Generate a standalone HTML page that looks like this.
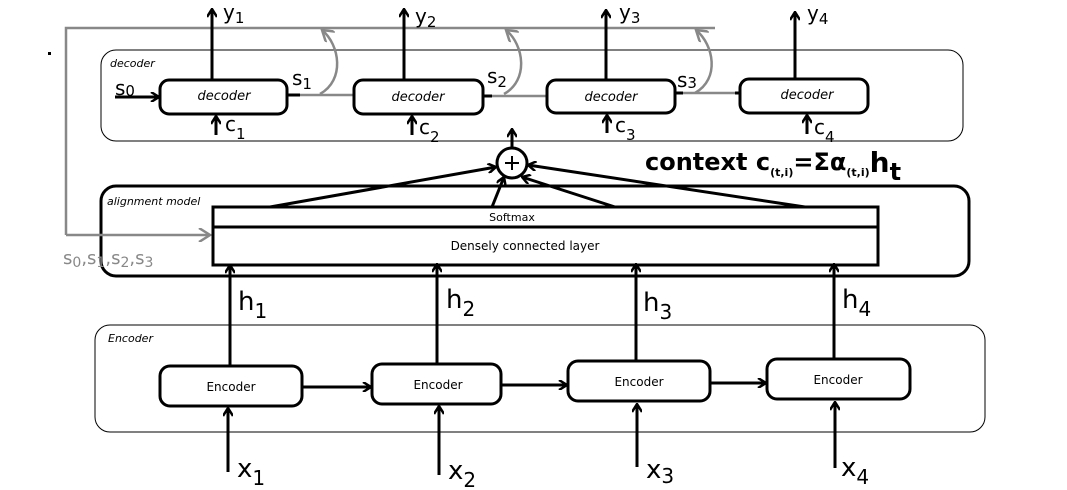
<!DOCTYPE html>
<html><head><meta charset="utf-8"><style>
html,body{margin:0;padding:0;background:#fff;width:1067px;height:490px;overflow:hidden}
svg{display:block}
text{font-family:"Comic Sans MS","DejaVu Sans","Liberation Sans",sans-serif;fill:#000}
</style></head><body>
<svg width="1067" height="490" viewBox="0 0 1067 490" xmlns="http://www.w3.org/2000/svg">
<defs>
<marker id="a" markerWidth="10" markerHeight="10" refX="9" refY="5" orient="auto" markerUnits="userSpaceOnUse"><path d="M1,0 L9,5 L1,10" fill="none" stroke="#000" stroke-width="2.5"/></marker>
<marker id="g" markerWidth="14" markerHeight="14" refX="12" refY="7" orient="auto" markerUnits="userSpaceOnUse"><path d="M1,0 L12,7 L1,14" fill="none" stroke="#888" stroke-width="2.5"/></marker>
</defs>
<rect x="48" y="52" width="3" height="3" fill="#000"/>
<!-- containers -->
<rect x="101" y="50" width="862" height="91" rx="15" fill="none" stroke="#000" stroke-width="1"/>
<rect x="101" y="186" width="868" height="90" rx="15" fill="none" stroke="#000" stroke-width="3"/>
<rect x="95" y="325" width="890" height="107" rx="15" fill="none" stroke="#000" stroke-width="1"/>
<text x="110" y="67" font-size="11" font-style="italic">decoder</text>
<text x="107" y="205" font-size="11" font-style="italic">alignment model</text>
<text x="108" y="342" font-size="11" font-style="italic">Encoder</text>
<!-- gray feedback -->
<g fill="none" stroke="#888" stroke-width="2.5">
<path d="M66,235 L66,28 L715,28"/>
<path d="M66,235 L210,235" marker-end="url(#g)"/>
<path d="M320,94 C345,80 340,45 322,30" marker-end="url(#g)"/>
<path d="M504,94 C529,80 524,45 506,30" marker-end="url(#g)"/>
<path d="M695,93 C720,79 714,45 696,30" marker-end="url(#g)"/>
<path d="M300,95 L353,95 M492,96 L547,96 M683,93 L735,93"/>
</g>
<text x="63" y="264" font-size="18" fill="#888" style="fill:#888">s<tspan font-size="14" dy="3">0</tspan><tspan dy="-3">,s</tspan><tspan font-size="14" dy="3">1</tspan><tspan dy="-3">,s</tspan><tspan font-size="14" dy="3">2</tspan><tspan dy="-3">,s</tspan><tspan font-size="14" dy="3">3</tspan></text>
<!-- decoder row -->
<g fill="none" stroke="#000" stroke-width="3">
<rect x="160" y="80" width="127" height="34" rx="9"/>
<rect x="354" y="80" width="129" height="34" rx="9"/>
<rect x="547" y="80" width="128" height="33" rx="9"/>
<rect x="740" y="79" width="128" height="34" rx="9"/>
<path d="M287,95 L300,95 M483,96 L492,96 M675,93 L683,93 M735,93 L740,93"/>
<path d="M115,97 L159,97" marker-end="url(#a)"/>
<path d="M212,80 L212,9" marker-end="url(#a)"/>
<path d="M404,80 L404,9" marker-end="url(#a)"/>
<path d="M606,80 L606,10" marker-end="url(#a)"/>
<path d="M795,79 L795,12" marker-end="url(#a)"/>
<path d="M216,135 L216,116" marker-end="url(#a)"/>
<path d="M412,135 L412,116" marker-end="url(#a)"/>
<path d="M607,133 L607,115" marker-end="url(#a)"/>
<path d="M807,134 L807,115" marker-end="url(#a)"/>
</g>
<g font-size="13" font-style="italic" text-anchor="middle">
<text x="224" y="100">decoder</text><text x="418" y="101">decoder</text><text x="611" y="101">decoder</text><text x="807" y="99">decoder</text>
</g>
<g font-size="20">
<text x="223" y="19">y<tspan font-size="15" dy="4">1</tspan></text>
<text x="415" y="23">y<tspan font-size="15" dy="4">2</tspan></text>
<text x="619" y="19">y<tspan font-size="15" dy="4">3</tspan></text>
<text x="807" y="20">y<tspan font-size="15" dy="4">4</tspan></text>
<text x="115" y="95">s<tspan font-size="15" dy="1">0</tspan></text>
<text x="292" y="85">s<tspan font-size="15" dy="4">1</tspan></text>
<text x="487" y="83">s<tspan font-size="15" dy="4">2</tspan></text>
<text x="677" y="87">s<tspan font-size="15" dy="1">3</tspan></text>
<text x="225" y="131">c<tspan font-size="15" dy="8">1</tspan></text>
<text x="419" y="134">c<tspan font-size="15" dy="8">2</tspan></text>
<text x="615" y="132">c<tspan font-size="15" dy="8">3</tspan></text>
<text x="814" y="134">c<tspan font-size="15" dy="8">4</tspan></text>
</g>
<!-- plus & context -->
<g fill="none" stroke="#000" stroke-width="3">
<circle cx="512" cy="163" r="15"/>
<path d="M512,147 L512,129" marker-end="url(#a)"/>
<path d="M270,207 L496,167" marker-end="url(#a)"/>
<path d="M492,207 L504,177" marker-end="url(#a)"/>
<path d="M615,207 L522,177" marker-end="url(#a)"/>
<path d="M805,207 L528,165" marker-end="url(#a)"/>
<path d="M505,163 L519,163 M512,156 L512,170" stroke-width="2"/>
</g>
<text x="645" y="170" font-size="24" font-weight="bold">context c<tspan font-size="11" dy="6">(t,i)</tspan><tspan dy="-6">=Σα</tspan><tspan font-size="11" dy="6">(t,i)</tspan><tspan font-size="28" dy="-4">h</tspan><tspan dy="8">t</tspan></text>
<!-- softmax -->
<rect x="213" y="207" width="665" height="58" fill="none" stroke="#000" stroke-width="3"/>
<line x1="213" y1="227" x2="878" y2="227" stroke="#000" stroke-width="3"/>
<text x="512" y="221" font-size="11" text-anchor="middle">Softmax</text>
<text x="525" y="250" font-size="12" text-anchor="middle">Densely connected layer</text>
<!-- encoder -->
<g fill="none" stroke="#000" stroke-width="3">
<rect x="160" y="366" width="142" height="40" rx="10"/>
<rect x="372" y="364" width="129" height="40" rx="10"/>
<rect x="568" y="361" width="142" height="40" rx="10"/>
<rect x="767" y="359" width="143" height="40" rx="10"/>
<path d="M302,387 L371,387" marker-end="url(#a)"/>
<path d="M501,385 L567,385" marker-end="url(#a)"/>
<path d="M710,383 L766,383" marker-end="url(#a)"/>
<path d="M230,366 L230,265" marker-end="url(#a)"/>
<path d="M437,364 L437,264" marker-end="url(#a)"/>
<path d="M636,361 L636,264" marker-end="url(#a)"/>
<path d="M834,359 L834,264" marker-end="url(#a)"/>
<path d="M228,472 L228,408" marker-end="url(#a)"/>
<path d="M439,475 L439,406" marker-end="url(#a)"/>
<path d="M637,467 L637,404" marker-end="url(#a)"/>
<path d="M835,468 L835,402" marker-end="url(#a)"/>
</g>
<g font-size="12" text-anchor="middle">
<text x="231" y="391">Encoder</text><text x="438" y="389">Encoder</text><text x="639" y="386">Encoder</text><text x="838" y="384">Encoder</text>
</g>
<g font-size="26">
<text x="238" y="310">h<tspan font-size="20" dy="8">1</tspan></text>
<text x="446" y="308">h<tspan font-size="20" dy="8">2</tspan></text>
<text x="643" y="311">h<tspan font-size="20" dy="8">3</tspan></text>
<text x="842" y="308">h<tspan font-size="20" dy="8">4</tspan></text>
<text x="237" y="477">x<tspan font-size="20" dy="8">1</tspan></text>
<text x="448" y="479">x<tspan font-size="20" dy="8">2</tspan></text>
<text x="646" y="478">x<tspan font-size="20" dy="5">3</tspan></text>
<text x="841" y="476">x<tspan font-size="20" dy="8">4</tspan></text>
</g>
</svg>
</body></html>
